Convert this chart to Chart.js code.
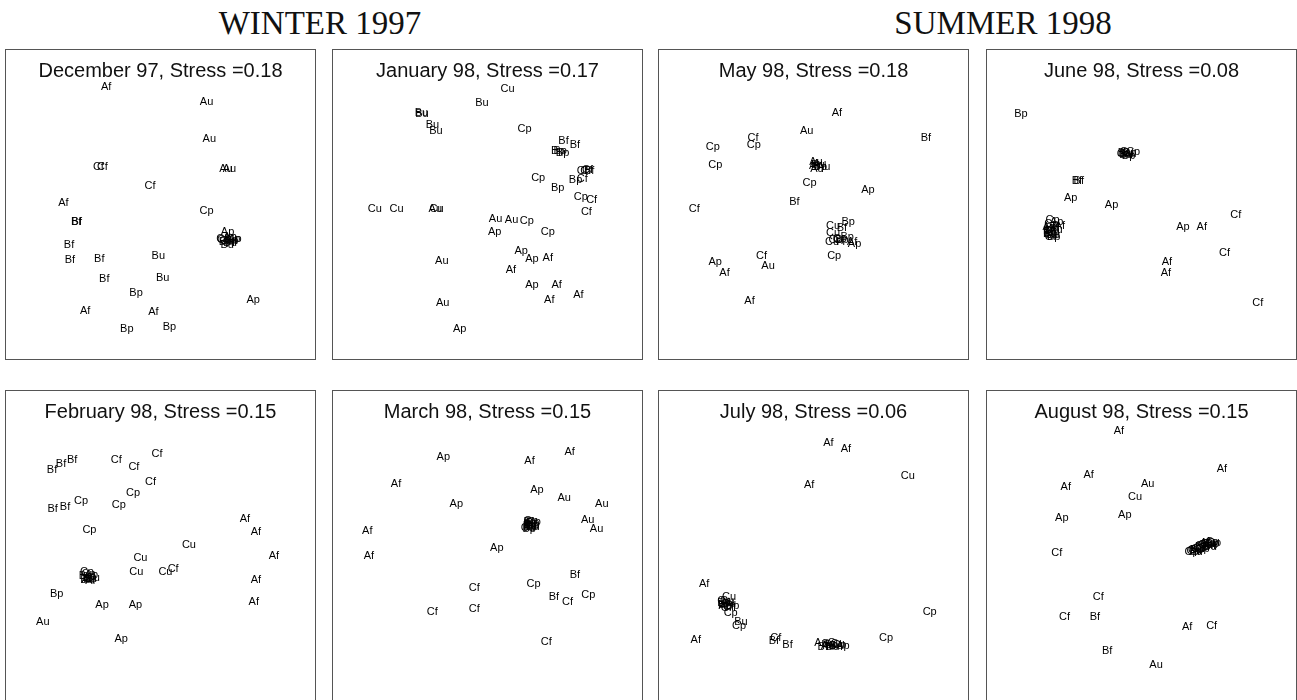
<!DOCTYPE html>
<html>
<head>
<meta charset="utf-8">
<script src="https://cdn.jsdelivr.net/npm/chart.js@4/dist/chart.umd.min.js"></script>
<style>
  html, body { margin: 0; padding: 0; background: #fff; }
  body { width: 1297px; height: 700px; overflow: hidden; position: relative; }
  .season {
    position: absolute; top: 7px; transform: translateX(-50%);
    font-family: "Liberation Serif", "Times New Roman", serif;
    font-size: 33px; line-height: 1; color: #111; white-space: nowrap;
  }
  .panel {
    position: absolute; width: 309px; height: 309px;
    border: 1px solid #555; background: #fff;
  }
  .panel canvas { position: absolute; left: 0; top: 0; }
</style>
</head>
<body>
<div class="season" style="left:320px">WINTER 1997</div>
<div class="season" style="left:1003px">SUMMER 1998</div>

<div class="panel" style="left:5px;top:49px"><canvas id="p0" width="309" height="309"></canvas></div>
<div class="panel" style="left:332px;top:49px"><canvas id="p1" width="309" height="309"></canvas></div>
<div class="panel" style="left:658px;top:49px"><canvas id="p2" width="309" height="309"></canvas></div>
<div class="panel" style="left:986px;top:49px"><canvas id="p3" width="309" height="309"></canvas></div>
<div class="panel" style="left:5px;top:390px"><canvas id="p4" width="309" height="309"></canvas></div>
<div class="panel" style="left:332px;top:390px"><canvas id="p5" width="309" height="309"></canvas></div>
<div class="panel" style="left:658px;top:390px"><canvas id="p6" width="309" height="309"></canvas></div>
<div class="panel" style="left:986px;top:390px"><canvas id="p7" width="309" height="309"></canvas></div>

<script>
// Sampling months and the stress of each two-dimensional MDS ordination
const months = ['December 97', 'January 98', 'May 98', 'June 98',
                'February 98', 'March 98', 'July 98', 'August 98'];
const stress = [0.18, 0.17, 0.18, 0.08, 0.15, 0.15, 0.06, 0.15];

// December 97: sample codes and MDS scores (dimension 1, dimension 2)
const dec97Codes = ['Af','Au','Au','Cf','Cf','Au','Au','Cf','Af','Cp','Bf','Bf','Ap','Ap','Cp','Bp','Cu','Cu','Bu','Bu','Cf','Ap','Bp','Cp','Bf','Bf','Bf','Bu','Bf','Bu','Bp','Ap','Af','Af','Bp','Bp'];
const dec97X = [-1.76,1.49,1.58,-2.01,-1.88,2.12,2.23,-0.34,-3.14,1.49,-2.73,-2.71,2.17,2.25,2.36,2.30,2.06,2.14,2.16,2.25,1.98,2.41,2.10,2.28,-2.96,-2.93,-1.98,-0.07,-1.82,0.07,-0.79,3.00,-2.44,-0.23,-1.09,0.29];
const dec97Y = [3.79,3.32,2.13,1.20,1.20,1.14,1.14,0.59,0.04,-0.20,-0.55,-0.57,-0.90,-1.06,-1.12,-1.17,-1.14,-1.19,-1.32,-1.25,-1.12,-1.10,-1.22,-1.15,-1.31,-1.78,-1.75,-1.67,-2.42,-2.39,-2.85,-3.10,-3.46,-3.47,-4.02,-3.96];

// January 98
const jan98Codes = ['Cu','Bu','Bu','Bu','Bu','Bu','Cp','Bf','Bf','Bp','Bp','Bp','Cf','Cf','Bf','Cf','Cp','Bp','Cf','Bp','Cp','Cf','Cf','Cu','Cu','Au','Cu','Au','Au','Cp','Ap','Cp','Ap','Ap','Af','Au','Af','Ap','Af','Af','Af','Au','Ap'];
const jan98X = [0.65,-0.18,-2.14,-2.12,-1.78,-1.67,1.20,2.46,2.83,2.27,2.35,2.43,3.07,3.18,3.29,3.24,1.64,2.85,3.07,2.27,3.02,3.37,3.20,-3.65,-2.94,-1.69,-1.65,0.26,0.78,1.27,0.23,1.95,1.09,1.44,1.95,-1.48,0.76,1.44,2.24,2.00,2.94,-1.45,-0.90];
const jan98Y = [3.73,3.29,2.96,2.93,2.57,2.38,2.46,2.07,1.93,1.72,1.72,1.68,1.08,1.08,1.08,1.13,0.86,0.80,0.83,0.52,0.25,0.16,-0.25,-0.16,-0.16,-0.14,-0.14,-0.47,-0.49,-0.52,-0.88,-0.88,-1.49,-1.76,-1.72,-1.82,-2.13,-2.62,-2.62,-3.09,-2.93,-3.20,-4.04];

// May 98
const may98Codes = ['Af','Au','Bf','Cp','Cf','Cp','Cp','Au','Af','Bu','Au','Au','Bp','Au','Cp','Ap','Bf','Cf','Bp','Cu','Bf','Cu','Cp','Cf','Bp','Bp','Af','Ap','Cu','Cp','Cp','Cf','Au','Ap','Af','Af'];
const may98X = [0.76,-0.22,3.64,-3.26,-1.96,-1.93,-3.18,0.08,0.02,0.14,0.33,0.11,0.22,0.20,-0.13,1.76,-0.62,-3.86,1.12,0.63,0.92,0.63,0.71,0.82,1.09,0.92,1.25,1.33,0.60,0.85,0.67,-1.68,-1.47,-3.18,-2.88,-2.07];
const may98Y = [2.97,2.38,2.14,1.87,2.16,1.92,1.29,1.37,1.26,1.29,1.23,1.15,1.21,1.30,0.69,0.46,0.09,-0.16,-0.55,-0.68,-0.77,-0.93,-1.15,-1.15,-1.04,-1.15,-1.21,-1.29,-1.21,-1.10,-1.68,-1.65,-1.98,-1.87,-2.22,-3.13];

// June 98
const jun98Codes = ['Bp','Bp','Bu','Cp','Bp','Cu','Bu','Bp','Cu','Bf','Bf','Ap','Ap','Cp','Ap','Af','Bu','Bp','Cu','Bf','Au','Cf','Bu','Cu','Cp','Bp','Au','Bf','Cu','Cf','Ap','Af','Cf','Af','Af','Cf'];
const jun98X = [-3.90,-0.55,-0.46,-0.27,-0.42,-0.57,-0.50,-0.38,-0.48,-2.09,-2.03,-2.29,-0.97,-2.88,-2.75,-2.64,-2.91,-2.95,-2.86,-3.02,-2.77,-2.95,-2.97,-2.88,-2.92,-2.84,-2.99,-2.80,-2.93,3.05,1.34,1.95,2.69,0.82,0.79,3.76];
const jun98Y = [2.93,1.68,1.63,1.70,1.57,1.65,1.60,1.66,1.71,0.77,0.77,0.22,0.00,-0.49,-0.55,-0.71,-0.77,-0.93,-0.99,-0.86,-0.82,-1.04,-0.95,-0.90,-0.62,-1.05,-0.72,-0.80,-1.00,-0.35,-0.74,-0.74,-1.56,-1.87,-2.22,-3.19];

// February 98
const feb98Codes = ['Bf','Bf','Bf','Cf','Cf','Cf','Cf','Cp','Bf','Bf','Cp','Cp','Cp','Af','Af','Cu','Af','Cu','Cu','Cu','Cf','Cp','Bu','Bp','Au','Ap','Cu','Bf','Af','Cp','Bu','Af','Bp','Ap','Ap','Af','Au','Ap'];
const feb98X = [-3.51,-3.22,-2.86,-1.43,-0.86,-0.11,-0.32,-0.89,-3.49,-3.09,-2.57,-1.35,-2.30,2.73,3.09,0.92,3.67,-0.65,-0.78,0.16,0.41,-2.38,-2.43,-2.30,-2.35,-2.24,-2.19,-2.43,-2.27,-2.33,-2.28,3.09,-3.36,-1.89,-0.81,3.02,-3.81,-1.27];
const feb98Y = [2.46,2.65,2.76,2.76,2.55,2.96,2.04,1.70,1.19,1.25,1.44,1.30,0.49,0.85,0.44,0.03,-0.35,-0.41,-0.86,-0.86,-0.75,-0.86,-0.97,-1.02,-1.10,-0.95,-1.05,-1.10,-1.16,-0.92,-1.08,-1.10,-1.56,-1.92,-1.94,-1.83,-2.48,-3.02];

// March 98
const mar98Codes = ['Ap','Af','Af','Af','Ap','Au','Au','Ap','Bf','Bp','Bu','Cp','Cu','Bf','Bu','Cu','Bp','Cp','Bf','Bu','Cu','Bp','Au','Au','Af','Ap','Af','Bf','Cp','Cf','Bf','Cf','Cp','Cf','Cf','Cf'];
const mar98X = [-1.43,1.36,2.66,-2.96,1.60,2.48,3.70,-1.01,1.33,1.47,1.36,1.50,1.30,1.41,1.38,1.44,1.35,1.45,1.33,1.47,1.40,1.37,3.24,3.53,-3.89,0.30,-3.84,2.83,1.49,-0.43,2.15,2.59,3.26,-1.79,-0.43,1.90];
const mar98Y = [2.88,2.75,3.04,1.99,1.80,1.55,1.34,1.34,0.76,0.68,0.63,0.76,0.58,0.74,0.70,0.62,0.55,0.72,0.66,0.60,0.78,0.61,0.83,0.54,0.47,-0.08,-0.35,-0.95,-1.24,-1.38,-1.65,-1.84,-1.60,-2.14,-2.07,-3.12];

// July 98
const jul98Codes = ['Af','Af','Cu','Af','Af','Cu','Cp','Au','Bp','Bf','Cf','Cp','Ap','Cu','Bu','Bp','Cf','Bu','Cp','Af','Cf','Bf','Bf','Au','Bf','Au','Bp','Cu','Bu','Cp','Ap','Bu','Cu','Bp','Cp','Cp'];
const jul98X = [0.48,1.05,3.05,-0.14,-3.54,-2.73,-2.89,-2.78,-2.62,-2.92,-2.82,-2.68,-2.86,-2.80,-2.72,-2.90,-2.75,-2.35,-2.41,-3.81,-1.22,-1.28,-0.84,0.24,0.30,0.46,0.57,0.68,0.73,0.84,0.95,0.62,0.78,0.51,2.35,3.76];
const jul98Y = [3.32,3.11,2.24,1.97,-1.24,-1.65,-1.81,-1.86,-1.97,-1.92,-2.03,-2.19,-1.95,-1.78,-1.90,-1.85,-2.00,-2.46,-2.60,-3.05,-3.00,-3.09,-3.22,-3.16,-3.29,-3.25,-3.22,-3.16,-3.25,-3.22,-3.25,-3.27,-3.20,-3.20,-3.00,-2.14];

// August 98
const aug98Codes = ['Af','Af','Af','Af','Au','Cu','Ap','Ap','Cp','Cu','Cp','Bp','Cu','Bu','Ap','Cp','Bu','Au','Cp','Bp','Cu','Bu','Bp','Cp','Cu','Bu','Cp','Bp','Cf','Cf','Cf','Bf','Af','Cf','Bf','Au'];
const aug98X = [-0.73,2.60,-1.71,-2.45,0.20,-0.21,-2.58,-0.54,1.62,1.73,1.84,1.95,2.06,2.16,2.27,2.35,2.22,2.11,1.68,1.79,1.90,2.00,2.10,2.20,2.30,1.76,1.98,2.30,-2.74,-1.40,-2.49,-1.51,1.48,2.27,-1.11,0.47];
const aug98Y = [3.71,2.49,2.27,1.88,1.99,1.56,0.90,0.99,-0.21,-0.16,-0.10,-0.05,0.01,0.04,0.11,0.09,-0.05,0.08,-0.18,-0.14,-0.08,-0.02,0.02,0.06,0.10,-0.20,-0.12,0.04,-0.23,-1.65,-2.31,-2.31,-2.63,-2.61,-3.40,-3.87];

const panelCodes = [dec97Codes, jan98Codes, may98Codes, jun98Codes, feb98Codes, mar98Codes, jul98Codes, aug98Codes];
const panelX = [dec97X, jan98X, may98X, jun98X, feb98X, mar98X, jul98X, aug98X];
const panelY = [dec97Y, jan98Y, may98Y, jun98Y, feb98Y, mar98Y, jul98Y, aug98Y];

// Each sample is plotted as its code text, centred on the scaled point
const codeLabels = {
  id: 'codeLabels',
  afterDatasetsDraw(chart) {
    const ctx = chart.ctx;
    ctx.save();
    ctx.font = '11px "Liberation Sans", Arial, sans-serif';
    ctx.fillStyle = '#000';
    ctx.textAlign = 'center';
    ctx.textBaseline = 'middle';
    chart.data.datasets.forEach((ds, i) => {
      chart.getDatasetMeta(i).data.forEach((el, j) => {
        ctx.fillText(ds.codes[j], el.x, el.y);
      });
    });
    ctx.restore();
  }
};

// Month and stress heading inside the frame of each ordination
const panelHeading = {
  id: 'panelHeading',
  afterDraw(chart, args, opts) {
    const ctx = chart.ctx;
    const area = chart.chartArea;
    ctx.save();
    ctx.font = '20px "Liberation Sans", Arial, sans-serif';
    ctx.fillStyle = '#111';
    ctx.textAlign = 'center';
    ctx.textBaseline = 'middle';
    ctx.fillText(opts.text, (area.left + area.right) / 2, area.top + 21);
    ctx.restore();
  }
};

months.forEach((month, k) => {
  const xs = panelX[k], ys = panelY[k];
  new Chart(document.getElementById('p' + k), {
    type: 'scatter',
    data: {
      datasets: [{
        data: xs.map((x, i) => ({ x: x, y: ys[i] })),
        codes: panelCodes[k],
        pointRadius: 0,
        pointHoverRadius: 0
      }]
    },
    options: {
      responsive: false,
      animation: false,
      devicePixelRatio: 1,
      events: [],
      layout: { padding: 0 },
      scales: {
        x: { type: 'linear', min: -5, max: 5, display: false },
        y: { type: 'linear', min: -5, max: 5, display: false }
      },
      plugins: {
        legend: { display: false },
        tooltip: { enabled: false },
        panelHeading: { text: month + ', Stress =' + stress[k].toFixed(2) }
      }
    },
    plugins: [codeLabels, panelHeading]
  });
});
</script>
</body>
</html>
